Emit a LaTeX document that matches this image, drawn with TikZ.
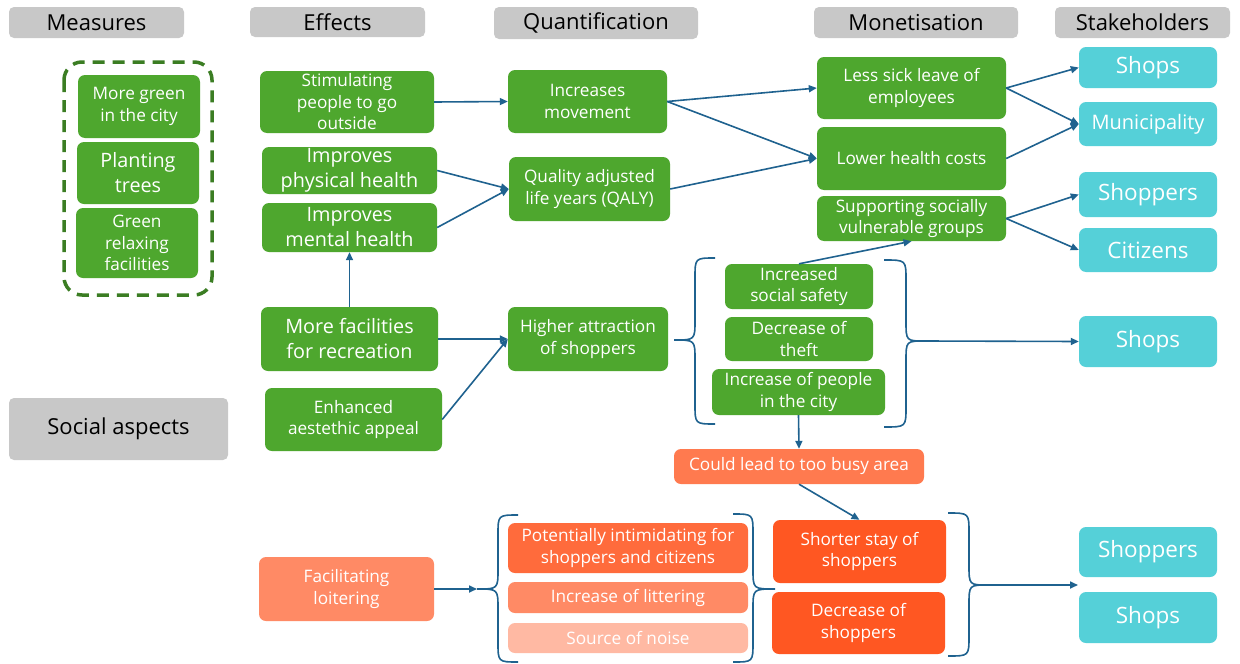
\documentclass[tikz,border=0pt]{standalone}
\usepackage{fontspec}
\setmainfont{Open Sans}
\usetikzlibrary{arrows.meta}
\definecolor{grn}{HTML}{4EA72E}
\definecolor{grnd}{HTML}{3B7D23}
\definecolor{cyn}{HTML}{55D0D8}
\definecolor{gry}{HTML}{C8C8C8}
\definecolor{arr}{HTML}{1F628F}
\definecolor{orgA}{HTML}{FF7A4F}
\definecolor{orgB}{HTML}{FF8A65}
\definecolor{orgC}{HTML}{FF6B3C}
\definecolor{orgD}{HTML}{FFB9A3}
\definecolor{orgE}{HTML}{FF5722}
% box from its corners: style, name, x1, y1, x2, y2, text
\newcommand{\boxat}[7]{%
  \node[#1, minimum width={#5-#3}, minimum height={#6-#4}] (#2) at ({(#3+#5)/2},{(#4+#6)/2}) {#7};}
% curly brace: end x, spine x, tip x, top y, tip y, bottom y
\newcommand{\curlyb}[6]{%
  \draw[brc] (#1,#4) .. controls (#2,#4) .. (#2,#4+20) -- (#2,#5-20)
    .. controls (#2,#5) .. (#3,#5) .. controls (#2,#5) .. (#2,#5+20)
    -- (#2,#6-20) .. controls (#2,#6) .. (#1,#6);}
\newcommand{\fs}[2]{\fontsize{#1}{#2}\selectfont}
\begin{document}
\begin{tikzpicture}[x=1pt,y=-1pt,
  base/.style={rectangle, rounded corners=7, inner sep=0, align=center, text=white, font=\fs{17.2}{21.5}},
  gbox/.style={base, fill=grn},
  cbox/.style={base, fill=cyn, font=\fs{22.5}{26}},
  hdr/.style={base, fill=gry, text=black, rounded corners=5, font=\fs{22}{25}},
  big/.style={font=\fs{19.8}{25}},
  link/.style={draw=arr, line width=1.6, -{Triangle[length=8,width=7]}},
  brc/.style={draw=arr, line width=1.6}]
\fill[white] (0,0) rectangle (1240,664);
\useasboundingbox (0,0) rectangle (1240,664);

% column headers
\boxat{hdr}{hMeas}{9}{7}{184}{38}{Measures}
\boxat{hdr}{hEff}{250}{7}{425}{37}{Effects}
\boxat{hdr}{hQuant}{494}{7}{698}{39}{Quantification}
\boxat{hdr}{hMon}{814}{7}{1018}{38}{Monetisation}
\boxat{hdr}{hStk}{1055}{7}{1230}{38}{Stakeholders}
\boxat{hdr}{social}{9}{398}{228}{460}{Social aspects}

% measures
\draw[grnd, line width=3.5, dash pattern=on 12 off 8, rounded corners=18] (64,62) rectangle (212,295);
\boxat{gbox}{mGreen}{78}{75}{200}{138}{More green\\in the city}
\boxat{gbox,big}{mTrees}{77}{142}{199}{204}{Planting\\trees}
\boxat{gbox}{mRelax}{76}{208}{198}{278}{Green\\relaxing\\facilities}

% effects
\boxat{gbox}{eStim}{260}{71}{434}{133}{Stimulating\\people to go\\outside}
\boxat{gbox,big}{ePhys}{262}{147}{437}{194}{Improves\\physical health}
\boxat{gbox,big}{eMent}{262}{203}{437}{252}{Improves\\mental health}
\boxat{gbox,big}{eFac}{261}{307}{438}{371}{More facilities\\for recreation}
\boxat{gbox}{eAest}{265}{388}{442}{451}{Enhanced\\aestethic appeal}
\boxat{base,fill=orgB}{eLoit}{259}{557}{434}{621}{Facilitating\\loitering}

% quantification
\boxat{gbox}{qMove}{508}{70}{667}{133}{Increases\\movement}
\boxat{gbox}{qQaly}{509}{157}{670}{221}{Quality adjusted\\life years (QALY)}
\boxat{gbox}{qAttr}{508}{307}{668}{371}{Higher attraction\\of shoppers}

\boxat{gbox}{qSafe}{725}{264}{873}{309}{Increased\\social safety}
\boxat{gbox}{qTheft}{725}{317}{873}{361}{Decrease of\\theft}
\boxat{gbox}{qPeople}{712}{369}{885}{415}{Increase of people\\in the city}
\boxat{base,fill=orgA}{qBusy}{674}{449}{924}{484}{Could lead to too busy area}

\boxat{base,fill=orgC}{qIntim}{508}{523}{748}{573}{Potentially intimidating for\\shoppers and citizens}
\boxat{base,fill=orgB}{qLitter}{508}{582}{748}{613}{Increase of littering}
\boxat{base,fill=orgD}{qNoise}{508}{623}{748}{653}{Source of noise}

% monetisation
\boxat{gbox}{mSick}{817}{57}{1006}{119}{Less sick leave of\\employees}
\boxat{gbox}{mCost}{817}{127}{1006}{190}{Lower health costs}
\boxat{gbox}{mSupp}{817}{196}{1006}{241}{Supporting socially\\vulnerable groups}
\boxat{base,fill=orgE}{mStay}{773}{520}{946}{583}{Shorter stay of\\shoppers}
\boxat{base,fill=orgE}{mDecr}{772}{592}{945}{654}{Decrease of\\shoppers}

% stakeholders
\boxat{cbox}{sShopsA}{1079}{47}{1217}{88}{Shops}
\boxat{cbox,font=\fs{20}{25}}{sMuni}{1079}{102}{1217}{146}{Municipality}
\boxat{cbox}{sShoppersA}{1079}{172}{1217}{217}{Shoppers}
\boxat{cbox}{sCit}{1079}{228}{1217}{272}{Citizens}
\boxat{cbox}{sShopsB}{1079}{316}{1217}{367}{Shops}
\boxat{cbox}{sShoppersB}{1079}{527}{1217}{577}{Shoppers}
\boxat{cbox}{sShopsC}{1079}{592}{1217}{643}{Shops}

% braces
\curlyb{715}{695}{674}{258}{340}{424}
\curlyb{884}{906}{925}{260}{341}{427}
\curlyb{518}{498}{477}{515}{589}{662}
\curlyb{733}{753}{775}{514}{589}{662}
\curlyb{948}{969}{988}{513}{585}{656}
\coordinate (tipUp) at (925,341);
\coordinate (tipLoit) at (477,589);
\coordinate (tipLow) at (988,585);
\coordinate (stkLow) at (1078,585);

% connectors
\draw[link] (eStim.east) -- (qMove.west);
\draw[link] (ePhys.east) -- (qQaly.west);
\draw[link] (eMent.east) -- (qQaly.west);
\draw[link] (eFac.north) -- (eMent.south);
\draw[link] (eFac.east) -- (qAttr.west);
\draw[link] (eAest.east) -- (qAttr.west);
\draw[link] (qMove.east) -- (mSick.west);
\draw[link] (qMove.east) -- (mCost.west);
\draw[link] (qQaly.east) -- (mCost.west);
\draw[link] (mSick.east) -- (sShopsA.west);
\draw[link] (mSick.east) -- (sMuni.west);
\draw[link] (mCost.east) -- (sMuni.west);
\draw[link] (mSupp.east) -- (sShoppersA.west);
\draw[link] (mSupp.east) -- (sCit.west);
\draw[link] (qSafe.north) -- (mSupp.south);
\draw[link] (tipUp) -- (sShopsB.west);
\draw[link] (qPeople.south) -- (qBusy.north);
\draw[link] (qBusy.south) -- (mStay.north);
\draw[link] (eLoit.east) -- (tipLoit);
\draw[link] (tipLow) -- (stkLow);
\end{tikzpicture}
\end{document}
